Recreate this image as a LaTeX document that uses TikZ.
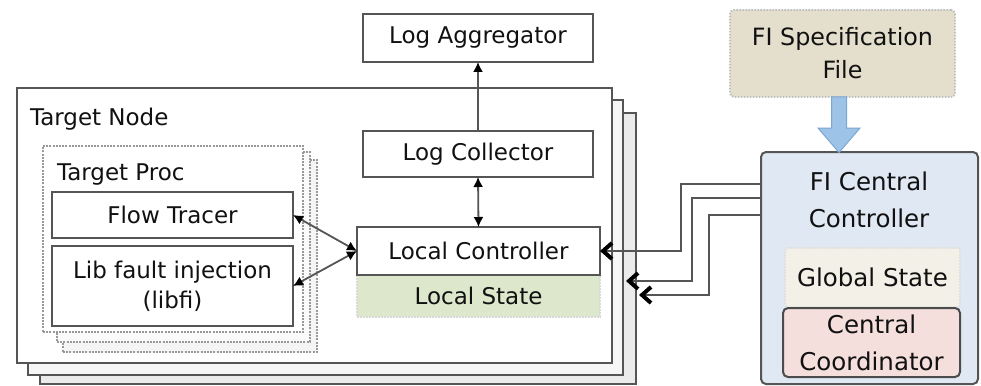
\documentclass[tikz,border=0pt]{standalone}
\usepackage{fontspec}
\setmainfont{DejaVu Sans}
\usetikzlibrary{arrows.meta}
\definecolor{edge}{HTML}{555555}
\definecolor{ink}{HTML}{111111}
\definecolor{stateGreen}{HTML}{DDE7CB}
\definecolor{specBeige}{HTML}{E3DFCC}
\definecolor{arrowBlue}{HTML}{9DC3E6}
\definecolor{arrowBlueEdge}{HTML}{7BA5D3}
\definecolor{ctrlBlue}{HTML}{DFE8F3}
\definecolor{globalCream}{HTML}{F3F0E7}
\definecolor{coordPink}{HTML}{F4DFDC}
\begin{document}
\begin{tikzpicture}[x=1pt,y=-1pt,
  every node/.style={font=\fontsize{23}{30}\selectfont, text=ink, inner sep=0pt, outer sep=0pt},
  solidbox/.style={draw=edge, line width=2pt, fill=white, anchor=north west, align=center},
  dotbox/.style={draw=gray!55, line width=1.8pt, dash pattern=on 1.6pt off 1.4pt, anchor=north west, align=center},
  procbox/.style={dotbox, draw=gray!80, line width=2.8pt, dash pattern=on 2pt off 1.2pt},
  bigfont/.style={font=\fontsize{24.5}{37}\selectfont},
  tip/.style={Latex[length=10pt,width=10pt,color=black]},
  biarrow/.style={draw=edge, line width=1.8pt, {Latex[length=10pt,width=10pt,color=black]}-{Latex[length=10pt,width=10pt,color=black]}},
  uparrow/.style={draw=edge, line width=1.8pt, -{Latex[length=10pt,width=10pt,color=black]}},
  conn/.style={draw=edge, line width=2pt, -{Straight Barb[length=9pt,width=16pt,line width=4pt,color=black]}}
]
\useasboundingbox (0,0) rectangle (981,385);

% stacked Target Node frames
\node[solidbox, fill=gray!16, minimum width=596pt, minimum height=271pt] (tn3) at (40,113) {};
\node[solidbox, fill=gray!7, minimum width=595pt, minimum height=275pt] (tn2) at (28,100) {};
\node[solidbox, minimum width=595pt, minimum height=275pt] (tn) at (17,88) {};
\node[anchor=base west] (tnlabel) at (30,125) {Target Node};

% stacked Target Proc frames
\node[procbox, fill=gray!8, minimum width=254pt, minimum height=192pt] (tp3) at (63,160) {};
\node[procbox, fill=gray!4, minimum width=253pt, minimum height=190pt] (tp2) at (57,152) {};
\node[procbox, fill=white, minimum width=260pt, minimum height=186pt] (tp) at (43,146) {};
\node[anchor=base west] (tplabel) at (57,180) {Target Proc};

\node[solidbox, minimum width=241pt, minimum height=46pt] (ft) at (52,192) {Flow Tracer};
\node[solidbox, minimum width=241pt, minimum height=80pt] (lib) at (52,246) {Lib fault injection\\(libfi)};

% logging and local control
\node[solidbox, minimum width=230pt, minimum height=48pt] (agg) at (363,14) {Log Aggregator};
\node[solidbox, minimum width=230pt, minimum height=46pt] (coll) at (363,131) {Log Collector};
\node[dotbox, draw=gray!30, fill=stateGreen, minimum width=243pt, minimum height=42pt] (ls) at (357,275) {Local State};
\node[solidbox, minimum width=243pt, minimum height=48pt] (lc) at (357,227) {Local Controller};

\draw[uparrow] (coll.north) -- (agg.south);
\draw[biarrow] (lc.north) -- (coll.south);
\draw[biarrow] (ft.east) -- (lc.west);
\draw[biarrow] (lib.east) -- (lc.west);

% fault injection control side
\node[dotbox, draw=gray!50, fill=specBeige, rounded corners=4pt, minimum width=225pt, minimum height=87pt, font=\fontsize{23.8}{33}\selectfont] (spec) at (730,10) {FI Specification\\File};

\node[solidbox, fill=ctrlBlue, rounded corners=5pt, minimum width=217pt, minimum height=232pt] (fi) at (761,152) {};
\node[bigfont, align=center] (fititle) at (869,200) {FI Central\\Controller};
\node[dotbox, draw=gray!25, fill=globalCream, rounded corners=3pt, minimum width=175pt, minimum height=59pt, bigfont] (gs) at (785,248) {Global State};
\node[solidbox, draw=edge!90!black, fill=coordPink, rounded corners=5pt, minimum width=177pt, minimum height=69pt, bigfont] (cc) at (783,308) {Central\\Coordinator};

% block arrow from the specification file into the controller
\filldraw[fill=arrowBlue, draw=arrowBlueEdge, line width=1pt]
  (831.5,97) -- (846.5,97) -- (846.5,128) -- (860,128) -- (839,152.5)
  -- (818,128) -- (831.5,128) -- cycle;

% control links to the local controllers of each node
\draw[conn] ([yshift=-32pt]fi.north west) -- ++(-80,0) |- (lc.east);
\coordinate (in2) at (tn2.east |- 0,281);
\coordinate (in3) at (tn3.east |- 0,295);
\draw[conn] ([yshift=-46pt]fi.north west) -- ++(-69,0) |- ([xshift=3pt]in2);
\draw[conn] ([yshift=-63pt]fi.north west) -- ++(-52,0) |- ([xshift=3pt]in3);
\end{tikzpicture}
\end{document}
